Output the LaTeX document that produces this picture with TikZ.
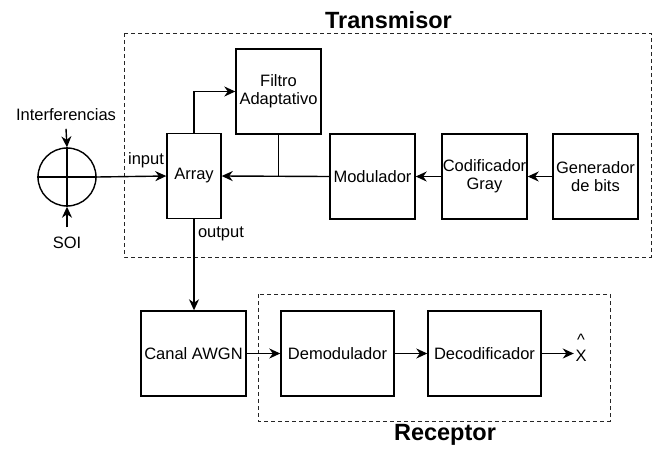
\documentclass[tikz,border=0pt]{standalone}
\usepackage{fontspec}
\setmainfont{Liberation Sans}
\usepackage{tikz}
\usetikzlibrary{arrows.meta}

\begin{document}
\begin{tikzpicture}[x=1pt, y=-1pt,
    line width=1.4pt,
    font=\fontsize{16.5}{18}\selectfont,
    >={Stealth[length=11pt, width=10pt, inset=3.5pt]},
    block/.style={draw, rectangle, align=center, inner sep=0pt, minimum height=85pt},
    group/.style={draw=black!85, line width=1pt, dash pattern=on 4pt off 3pt},
    title/.style={font=\fontsize{23.5}{26}\selectfont\bfseries}]
  \useasboundingbox (0,0) rectangle (670,448);

  % Draw the dashed groups
  \draw[group] (124,33) rectangle (651,257);
  \draw[group] (258,294) rectangle (610,421);
  \node[title] (tx) at (388.5,20) {Transmisor};
  \node[title] (rx) at (445,435) {Receptor};

  % Draw the blocks of the transmitter
  \node[block, minimum width=54pt] (arr) at (194,176) {Array};
  \node[block, minimum width=85pt] (filt) at (278.5,91.5) {Filtro\\Adaptativo};
  \node[block, minimum width=85pt] (mod) at (372.5,176.5) {Modulador};
  \node[block, minimum width=85pt] (cod) at (484.5,176.5) {Codificador\\Gray};
  \node[block, minimum width=85pt] (gen) at (595.5,176.5) {Generador\\de bits};

  % Draw the blocks of the receiver
  \node[block, minimum width=105pt] (awgn) at (193.5,353.5) {Canal AWGN};
  \node[block, minimum width=113pt] (demod) at (337.5,353.5) {Demodulador};
  \node[block, minimum width=113pt] (dec) at (484.5,353.5) {Decodificador};
  \node[anchor=base, inner sep=1pt] (xhat) at (581,361) {X};
  \node[anchor=base, inner sep=0pt] (hat) at (581,345) {\textasciicircum};

  % Draw the summing circle
  \node[draw, circle, minimum size=58pt, inner sep=0pt] (sum) at (67,177) {};
  \draw (sum.north) -- (sum.south);
  \draw (sum.west) -- (sum.east);
  \node[inner sep=1pt] (intf) at (66,115) {Interferencias};
  \node[inner sep=1pt] (soi) at (67,243) {SOI};
  \draw[->] (intf.south) ++(0,6) -- (sum.north);
  \draw[->] (soi.north) ++(0,-8) -- (sum.south);

  % Port labels of the array
  \node[inner sep=0pt] (inp) at (146,160) {input};
  \node[inner sep=0pt] (outp) at (221,234) {output};

  % Connect the blocks
  \coordinate (tap) at (filt.south |- arr.east);
  \draw[->] (sum.east) -- (arr.west);
  \draw[->] (arr.north) |- (filt.west);
  \draw (filt.south) -- (tap);
  \draw[->] (mod.west) -- (arr.east);
  \draw[->] (cod.west) -- (mod.east);
  \draw[->] (gen.west) -- (cod.east);
  \draw[->] (arr.south) -- (arr.south |- awgn.north);
  \draw[->] (awgn.east) -- (demod.west);
  \draw[->] (demod.east) -- (dec.west);
  \draw[->] (dec.east) -- (dec.east -| xhat.west);
\end{tikzpicture}
\end{document}
